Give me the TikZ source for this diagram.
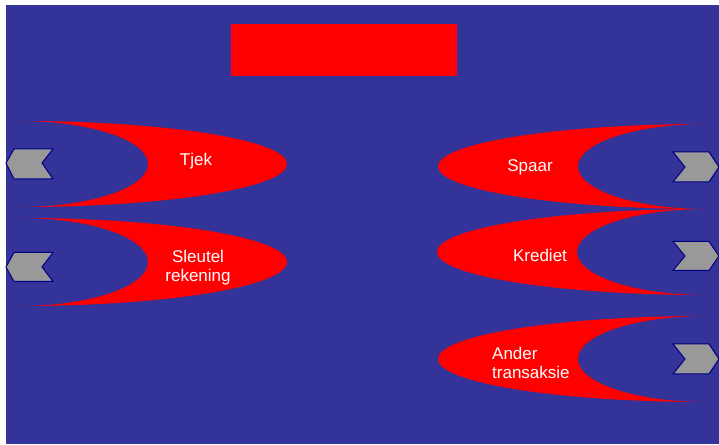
\documentclass[tikz,border=0pt]{standalone}
\usepackage{fontspec}
\setmainfont{Liberation Sans}
\definecolor{bgblue}{HTML}{333399}
\definecolor{chevgray}{HTML}{999999}
\definecolor{chevline}{HTML}{000080}
\begin{document}
\begin{tikzpicture}[x=1pt,y=1pt,
  crescent/.style={fill=red,draw=none},
  chevron/.style={fill=chevgray,draw=chevline,line width=1pt,line join=miter},
  label/.style={text=white,inner sep=0pt,font=\fontsize{17}{19.5}\selectfont}]
\useasboundingbox (0,0) rectangle (719,444);
\fill[white] (0,0) rectangle (719,444);
\fill[bgblue] (6,0) rectangle (719,439);
% title box
\fill[red] (231,368) rectangle (457,420);
% left crescents
\path[crescent] (20,323) arc[start angle=90,end angle=-90,x radius=267,y radius=43]
  arc[start angle=-90,end angle=90,x radius=128,y radius=43] -- cycle;
\path[crescent] (20,226) arc[start angle=90,end angle=-90,x radius=267,y radius=44]
  arc[start angle=-90,end angle=90,x radius=128,y radius=44] -- cycle;
% right crescents
\path[crescent] (706,320) arc[start angle=90,end angle=270,x radius=268,y radius=42.5]
  arc[start angle=270,end angle=90,x radius=128,y radius=42.5] -- cycle;
\path[crescent] (706,235) arc[start angle=90,end angle=270,x radius=269,y radius=43]
  arc[start angle=270,end angle=90,x radius=129,y radius=43] -- cycle;
\path[crescent] (706,128) arc[start angle=90,end angle=270,x radius=268,y radius=43]
  arc[start angle=270,end angle=90,x radius=128,y radius=43] -- cycle;
% left chevrons
\draw[chevron] (6,281) -- (14,295) -- (53,295) -- (42,281) -- (53,265) -- (14,265) -- cycle;
\draw[chevron] (6,177) -- (14,191.5) -- (53,191.5) -- (42,177) -- (53,162.5) -- (14,162.5) -- cycle;
% right chevrons
\draw[chevron] (673,292) -- (709,292) -- (719,277) -- (709,262) -- (673,262) -- (685,277) -- cycle;
\draw[chevron] (673,202.5) -- (709,202.5) -- (719,188) -- (709,173.5) -- (673,173.5) -- (685,188) -- cycle;
\draw[chevron] (673,100) -- (709,100) -- (719,85) -- (709,70) -- (673,70) -- (685,85) -- cycle;
% labels
\node[label,anchor=base] (tjek) at (196,278) {Tjek};
\node[label,anchor=base,align=center] (sleutel) at (198,162) {Sleutel\\rekening};
\node[label,anchor=base] (spaar) at (530,272) {Spaar};
\node[label,anchor=base] (krediet) at (540,182) {Krediet};
\node[label,anchor=base west,align=left] (ander) at (492,65) {Ander\\transaksie};
\end{tikzpicture}
\end{document}
